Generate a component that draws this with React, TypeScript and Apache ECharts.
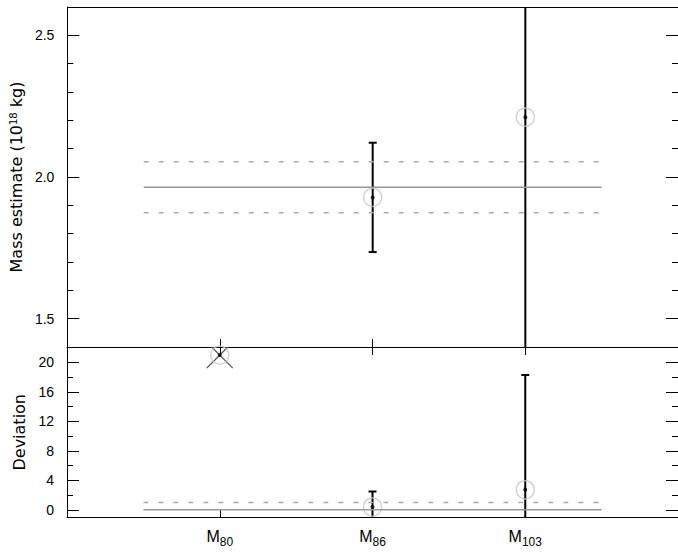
import React, { useEffect, useRef } from 'react';
import * as echarts from 'echarts';

// ---- data ----
const categories = ['80', '86', '103'];
const catPos = [1, 2, 3];
const massValues: (number | null)[] = [null, 1.928, 2.211];
const massErrors: (number | null)[] = [null, 0.193, 1.0];
const massMean = 1.964;
const massMeanErr = 0.09;
const devValues = [21.0, 0.37, 2.71];
const devErrors = [0, 2.11, 15.6];
const devExcluded = [true, false, false];
const devMean = 0;
const devLimit = 1;
const massMajorTicks = [1.5, 2.0, 2.5];
const massMinorTicks = [1.6, 1.7, 1.8, 1.9, 2.1, 2.2, 2.3, 2.4];
const devMajorTicks = [0, 4, 8, 12, 16, 20];
const devMinorTicks = [2, 6, 10, 14, 18];

const FONT = 'Liberation Sans, Arial, sans-serif';
const NAME_FONT = 'DejaVu Sans, sans-serif';

function errorBarRender(params: any, api: any) {
  const x = api.value(0);
  const y = api.value(1);
  const e = api.value(2);
  if (!e) return null;
  const top = api.coord([x, y + e]);
  const bot = api.coord([x, y - e]);
  const hw = 4;
  const st = { stroke: '#000', lineWidth: 2 };
  return {
    type: 'group',
    children: [
      { type: 'line', shape: { x1: top[0], y1: top[1], x2: bot[0], y2: bot[1] }, style: st },
      { type: 'line', shape: { x1: top[0] - hw, y1: top[1], x2: top[0] + hw, y2: top[1] }, style: st },
      { type: 'line', shape: { x1: bot[0] - hw, y1: bot[1], x2: bot[0] + hw, y2: bot[1] }, style: st },
    ],
  };
}

function crossRender(params: any, api: any) {
  const c = api.coord([api.value(0), api.value(1)]);
  const h = 13;
  const st = { stroke: '#555', lineWidth: 1.3 };
  return {
    type: 'group',
    children: [
      { type: 'line', shape: { x1: c[0] - h, y1: c[1] - h, x2: c[0] + h, y2: c[1] + h }, style: st },
      { type: 'line', shape: { x1: c[0] + h, y1: c[1] - h, x2: c[0] - h, y2: c[1] + h }, style: st },
    ],
  };
}

export default function App() {
  const ref = useRef<HTMLDivElement>(null);
  useEffect(() => {
    if (!ref.current) return;
    const chart = echarts.init(ref.current, undefined, { renderer: 'svg' });

    const massPts = catPos
      .map((x, i) => [x, massValues[i], massErrors[i]])
      .filter((d) => d[1] !== null) as number[][];
    const devPts = catPos.map((x, i) => [x, devValues[i], devErrors[i]]);
    const devExcl = catPos.map((x, i) => [x, devValues[i]]).filter((_, i) => devExcluded[i]);

    const blackLine = { show: true, onZero: false, lineStyle: { color: '#000', width: 1 } };
    const hiddenLine = { show: false, onZero: false };
    const noLabel = { show: false };

    const yAxisSet = (grid: number, min: number, max: number, major: number[], minor: number[], name: string, rich: any) => [
      {
        gridIndex: grid, type: 'value', min, max, position: 'left',
        axisLine: blackLine,
        axisTick: { show: true, inside: true, length: 12, customValues: major, lineStyle: { color: '#000' } },
        axisLabel: { show: true, customValues: major, color: '#000', fontSize: 14, fontFamily: FONT, margin: 13,
          formatter: (v: number) => (grid === 0 ? v.toFixed(1) : String(v)) },
        splitLine: { show: false },
        name, nameLocation: 'middle', nameGap: 40,
        nameTextStyle: { color: '#000', fontSize: 16, fontFamily: NAME_FONT, rich },
      },
      {
        gridIndex: grid, type: 'value', min, max, position: 'left',
        axisLine: hiddenLine,
        axisTick: { show: true, inside: true, length: 6, customValues: minor, lineStyle: { color: '#000' } },
        axisLabel: noLabel, splitLine: { show: false },
      },
      {
        gridIndex: grid, type: 'value', min, max, position: 'right',
        axisLine: hiddenLine,
        axisTick: { show: true, inside: true, length: 12, customValues: major, lineStyle: { color: '#000' } },
        axisLabel: noLabel, splitLine: { show: false },
      },
      {
        gridIndex: grid, type: 'value', min, max, position: 'right',
        axisLine: hiddenLine,
        axisTick: { show: true, inside: true, length: 6, customValues: minor, lineStyle: { color: '#000' } },
        axisLabel: noLabel, splitLine: { show: false },
      },
    ];

    const xBase = { type: 'value', min: 0, max: 4, splitLine: { show: false } };

    const option: any = {
      animation: false,
      textStyle: { fontFamily: FONT },
      grid: [
        { left: 67, right: 0, top: 7, height: 340 },
        { left: 67, right: 0, top: 347, height: 170.5 },
      ],
      xAxis: [
        { ...xBase, gridIndex: 0, position: 'bottom', axisLine: blackLine,
          axisTick: { show: true, inside: true, length: 8, customValues: catPos, lineStyle: { color: '#000' } },
          axisLabel: noLabel },
        { ...xBase, gridIndex: 0, position: 'top', axisLine: blackLine, axisTick: { show: false }, axisLabel: noLabel },
        { ...xBase, gridIndex: 1, position: 'top', axisLine: blackLine,
          axisTick: { show: true, inside: true, length: 8, customValues: catPos, lineStyle: { color: '#000' } },
          axisLabel: noLabel },
        { ...xBase, gridIndex: 1, position: 'bottom', axisLine: blackLine,
          axisTick: { show: true, inside: true, length: 8, customValues: catPos, lineStyle: { color: '#000' } },
          axisLabel: {
            show: true, customValues: catPos, margin: 11, color: '#000',
            formatter: (v: number) => {
              const i = catPos.indexOf(Math.round(v));
              return i >= 0 ? `{m|M}{s|${categories[i]}}` : '';
            },
            rich: {
              m: { fontSize: 16, lineHeight: 20, verticalAlign: 'top', color: '#000', fontFamily: FONT },
              s: { fontSize: 12, lineHeight: 16, verticalAlign: 'top', padding: [7, 0, 0, 0], color: '#000', fontFamily: FONT },
            },
          } },
      ],
      yAxis: [
        ...yAxisSet(0, 1.4, 2.6, massMajorTicks, massMinorTicks, 'Mass estimate (10{sup|18} kg)',
          { sup: { fontSize: 10, lineHeight: 10, verticalAlign: 'top', color: '#000', fontFamily: NAME_FONT } }),
        ...yAxisSet(1, -1.05, 22.1, devMajorTicks, devMinorTicks, 'Deviation', {}),
      ],
      series: [
        // top panel mean lines
        { type: 'line', xAxisIndex: 0, yAxisIndex: 0, symbol: 'none', silent: true,
          data: [[0.5, massMean], [3.5, massMean]], lineStyle: { color: '#999', width: 1.5 } },
        { type: 'line', xAxisIndex: 0, yAxisIndex: 0, symbol: 'none', silent: true,
          data: [[0.5, massMean + massMeanErr], [3.5, massMean + massMeanErr]], lineStyle: { color: '#aaa', width: 1.5, type: [5, 10] } },
        { type: 'line', xAxisIndex: 0, yAxisIndex: 0, symbol: 'none', silent: true,
          data: [[0.5, massMean - massMeanErr], [3.5, massMean - massMeanErr]], lineStyle: { color: '#aaa', width: 1.5, type: [5, 10] } },
        // bottom panel lines
        { type: 'line', xAxisIndex: 3, yAxisIndex: 4, symbol: 'none', silent: true,
          data: [[0.5, devMean], [3.5, devMean]], lineStyle: { color: '#999', width: 1.5 } },
        { type: 'line', xAxisIndex: 3, yAxisIndex: 4, symbol: 'none', silent: true,
          data: [[0.5, devLimit], [3.5, devLimit]], lineStyle: { color: '#aaa', width: 1.5, type: [5, 10] } },
        // circles
        { type: 'scatter', xAxisIndex: 0, yAxisIndex: 0, symbol: 'circle', symbolSize: 18,
          data: massPts.map((d) => [d[0], d[1]]),
          itemStyle: { color: 'rgba(0,0,0,0)', borderColor: '#c8c8c8', borderWidth: 1.5 } },
        { type: 'scatter', xAxisIndex: 3, yAxisIndex: 4, symbol: 'circle', symbolSize: 18,
          data: devPts.map((d) => [d[0], d[1]]),
          itemStyle: { color: 'rgba(0,0,0,0)', borderColor: '#c8c8c8', borderWidth: 1.5 } },
        // excluded cross
        { type: 'custom', xAxisIndex: 3, yAxisIndex: 4, clip: true, renderItem: crossRender,
          encode: { x: 0, y: 1 }, data: devExcl },
        // error bars
        { type: 'custom', xAxisIndex: 0, yAxisIndex: 0, clip: true, renderItem: errorBarRender,
          encode: { x: 0, y: 1 }, data: massPts },
        { type: 'custom', xAxisIndex: 3, yAxisIndex: 4, clip: true, renderItem: errorBarRender,
          encode: { x: 0, y: 1 }, data: devPts },
        // center dots
        { type: 'scatter', xAxisIndex: 0, yAxisIndex: 0, symbol: 'circle', symbolSize: 4,
          data: massPts.map((d) => [d[0], d[1]]), itemStyle: { color: '#000' } },
        { type: 'scatter', xAxisIndex: 3, yAxisIndex: 4, symbol: 'circle', symbolSize: 4,
          data: devPts.map((d) => [d[0], d[1]]), itemStyle: { color: '#000' } },
      ],
    };
    chart.setOption(option);
    return () => chart.dispose();
  }, []);
  return (
    <div
      ref={ref}
      style={{ position: 'fixed', left: 0, top: 0, width: 678, height: 552, background: '#fff' }}
    />
  );
}
